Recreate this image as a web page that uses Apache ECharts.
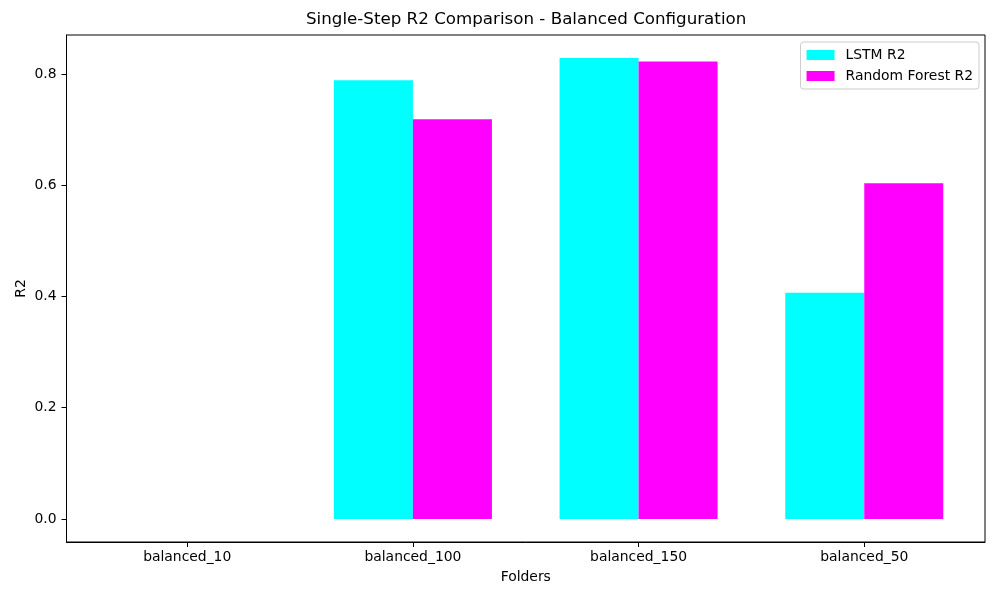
<!DOCTYPE html>
<html>
<head>
<meta charset="utf-8">
<script src="https://cdn.jsdelivr.net/npm/echarts@6/dist/echarts.min.js"></script>
<style>html,body{margin:0;padding:0;background:#fff}#c{width:1000px;height:600px}</style>
</head>
<body>
<div id="c"></div>
<script>
const categories = ['balanced_10', 'balanced_100', 'balanced_150', 'balanced_50'];
const lstmR2 = [0, 0.789, 0.829, 0.407];
const rfR2 = [0, 0.719, 0.823, 0.604];
const yTicks = [0, 0.2, 0.4, 0.6, 0.8];
const xTicks = categories.map((c, i) => i);

const font = 'DejaVu Sans';
const chart = echarts.init(document.getElementById('c'), null, {renderer: 'canvas'});
chart.setOption({
  animation: false,
  backgroundColor: '#fff',
  textStyle: {fontFamily: font},
  title: {
    text: 'Single-Step R2 Comparison - Balanced Configuration',
    left: 306, top: 11, padding: 0,
    textStyle: {fontFamily: font, fontSize: 16.7, fontWeight: 'normal', color: '#000'}
  },
  legend: {
    orient: 'vertical', right: 21, top: 42,
    padding: [6, 6, 6, 6],
    itemWidth: 28, itemHeight: 10, itemGap: 7,
    icon: 'rect',
    borderColor: '#cccccc', borderWidth: 1, borderRadius: 3,
    backgroundColor: 'rgba(255,255,255,0.8)',
    textStyle: {fontFamily: font, fontSize: 13.9, color: '#000', padding: [0, 0, 0, 6]},
    data: ['LSTM R2', 'Random Forest R2']
  },
  grid: {left: 66.5, right: 15, top: 35, bottom: 58, show: true, borderColor: '#000', borderWidth: 1, backgroundColor: 'transparent'},
  xAxis: {
    type: 'value', min: -0.535, max: 3.535,
    name: 'Folders', nameLocation: 'middle', nameGap: 28, nameMoveOverlap: false,
    nameTextStyle: {fontFamily: font, fontSize: 13.9, color: '#000'},
    axisLine: {show: true, onZero: false, lineStyle: {color: '#000'}},
    axisTick: {show: true, inside: false, length: 5, lineStyle: {color: '#000'}, customValues: xTicks},
    axisLabel: {customValues: xTicks, margin: 8, color: '#000', fontFamily: font, fontSize: 13.9,
      formatter: v => categories[Math.round(v)] || ''},
    splitLine: {show: false}
  },
  yAxis: {
    type: 'value', min: -0.0415, max: 0.8705,
    name: 'R2', nameLocation: 'middle', nameGap: 38, nameMoveOverlap: false,
    nameTextStyle: {fontFamily: font, fontSize: 13.9, color: '#000'},
    axisLine: {show: true, onZero: false, lineStyle: {color: '#000'}},
    axisTick: {show: true, inside: false, length: 5, lineStyle: {color: '#000'}, customValues: yTicks},
    axisLabel: {customValues: yTicks, margin: 10, color: '#000', fontFamily: font, fontSize: 13.9,
      formatter: v => Number(v).toFixed(1)},
    splitLine: {show: false}
  },
  series: [
    {name: 'LSTM R2', type: 'bar', barWidth: 79, barGap: '0%', itemStyle: {color: '#00ffff'},
     data: lstmR2.map((v, i) => [i, v])},
    {name: 'Random Forest R2', type: 'bar', barWidth: 79, barGap: '0%', itemStyle: {color: '#ff00ff'},
     data: rfR2.map((v, i) => [i, v])}
  ]
});
</script>
</body>
</html>
